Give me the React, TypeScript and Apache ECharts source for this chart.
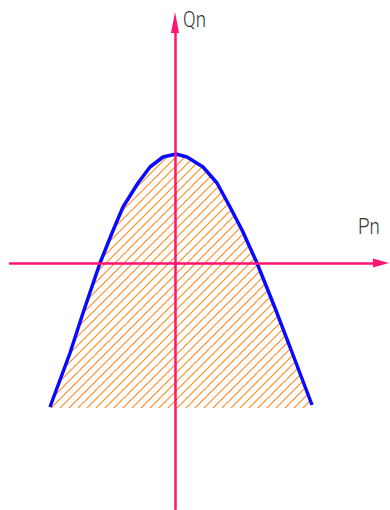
import React, { useEffect, useRef } from "react";
import * as echarts from "echarts";

// Operating envelope: active power Pn (x) vs reactive power Qn (y), per unit
const pn = [-1.25, -1.05, -0.92, -0.75, -0.63, -0.52, -0.37, -0.25, -0.12, 0.01, 0.12, 0.28, 0.42, 0.55, 0.67, 0.82, 1.02, 1.15, 1.37];
const qn = [-1.44, -0.9, -0.5, 0.0, 0.3, 0.56, 0.8, 0.96, 1.06, 1.09, 1.06, 0.96, 0.8, 0.56, 0.33, 0.0, -0.5, -0.84, -1.42];
const qFloor = -1.45;

const axisNames = { x: "Pn", y: "Qn" };
const xRange = [-1.65, 2.06];
const yRange = [-2.46, 2.405];

const AXIS_COLOR = "#ff1470";
const CURVE_COLOR = "#0a0aff";
const HATCH_COLOR = "#ff8a1f";

function makeHatch(): HTMLCanvasElement {
  const s = 9;
  const c = document.createElement("canvas");
  c.width = s;
  c.height = s;
  const ctx = c.getContext("2d")!;
  ctx.strokeStyle = HATCH_COLOR;
  ctx.lineWidth = 1.1;
  ctx.beginPath();
  ctx.moveTo(-1, s + 1);
  ctx.lineTo(s + 1, -1);
  ctx.moveTo(-1, 1);
  ctx.lineTo(1, -1);
  ctx.moveTo(s - 1, s + 1);
  ctx.lineTo(s + 1, s - 1);
  ctx.stroke();
  return c;
}

export default function App() {
  const ref = useRef<HTMLDivElement>(null);

  useEffect(() => {
    if (!ref.current) return;
    const chart = echarts.init(ref.current, null, { renderer: "svg" });
    const axisLineBase = {
      show: true,
      onZero: true,
      lineStyle: { color: AXIS_COLOR, width: 2.5 },
    };
    const nameStyle = {
      fontSize: 22,
      fontFamily: "Roboto, Liberation Sans, sans-serif",
      fontWeight: 300,
      fill: "#333",
    };
    chart.setOption({
      animation: false,
      backgroundColor: "#ffffff",
      grid: { left: 10, right: 9, top: 22.5, bottom: 1, containLabel: false },
      xAxis: {
        type: "value",
        min: xRange[0],
        max: xRange[1],
        z: 5,
        axisLine: { ...axisLineBase, symbol: ["none", "triangle"], symbolSize: [9, 16] },
        axisTick: { show: false },
        axisLabel: { show: false },
        splitLine: { show: false },
      },
      yAxis: {
        type: "value",
        min: yRange[0],
        max: yRange[1],
        z: 5,
        axisLine: { ...axisLineBase, symbol: ["none", "triangle"], symbolSize: [8, 21] },
        axisTick: { show: false },
        axisLabel: { show: false },
        splitLine: { show: false },
      },
      graphic: [
        {
          type: "text",
          left: 183,
          top: 8,
          scaleX: 0.85,
          style: { text: axisNames.y, ...nameStyle },
        },
        {
          type: "text",
          left: 358,
          top: 215,
          scaleX: 0.85,
          style: { text: axisNames.x, ...nameStyle },
        },
      ],
      series: [
        {
          type: "line",
          data: pn.map((p, i) => [p, qn[i]]),
          showSymbol: false,
          smooth: false,
          z: 2,
          lineStyle: { color: CURVE_COLOR, width: 3.5 },
          areaStyle: {
            origin: qFloor,
            opacity: 1,
            color: { image: makeHatch(), repeat: "repeat" },
          },
        },
      ],
    });
    return () => chart.dispose();
  }, []);

  return (
    <div
      ref={ref}
      style={{ position: "fixed", left: 0, top: 0, width: 390, height: 510 }}
    />
  );
}
